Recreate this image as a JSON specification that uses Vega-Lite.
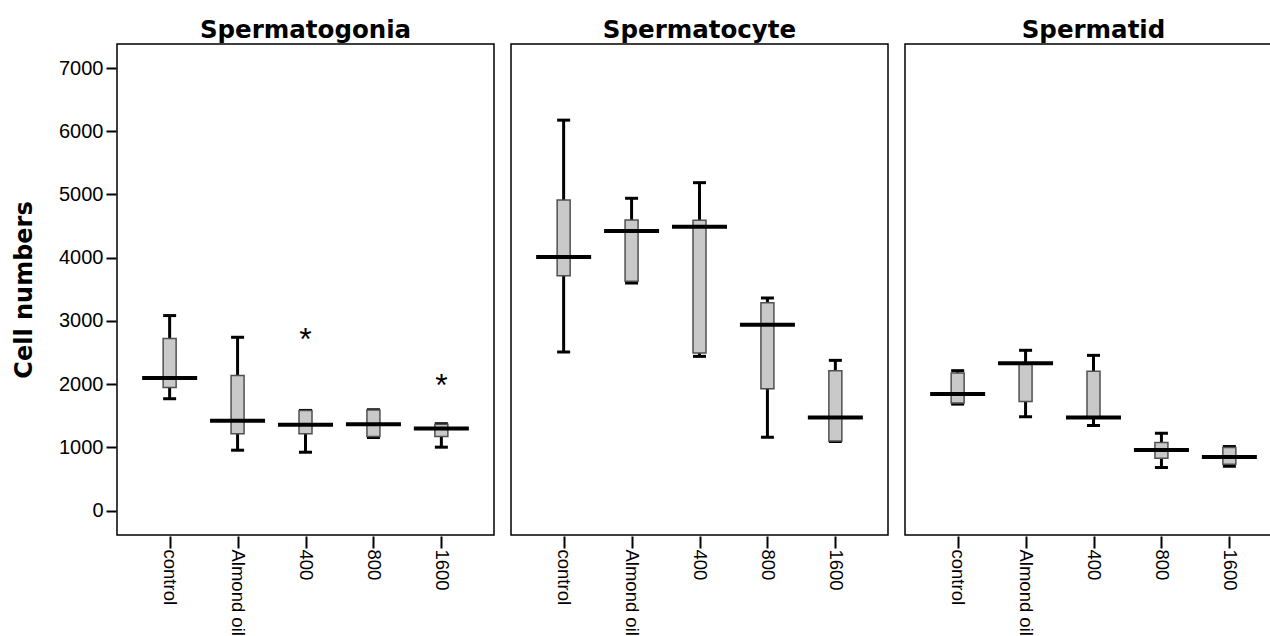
{
  "$schema": "https://vega.github.io/schema/vega-lite/v6.json",
  "padding": {"left": 12, "top": 17, "right": 0, "bottom": 0},
  "background": "white",
  "data": {"values": [
    {"cell": "Spermatogonia", "group": "control", "min": 1770, "q1": 1949, "median": 2097, "q3": 2721, "max": 3085, "outlier": null},
    {"cell": "Spermatogonia", "group": "Almond oil", "min": 956, "q1": 1215, "median": 1421, "q3": 2139, "max": 2742, "outlier": null},
    {"cell": "Spermatogonia", "group": "400", "min": 924, "q1": 1215, "median": 1358, "q3": 1585, "max": 1585, "outlier": 2768},
    {"cell": "Spermatogonia", "group": "800", "min": 1155, "q1": 1173, "median": 1368, "q3": 1590, "max": 1595, "outlier": null},
    {"cell": "Spermatogonia", "group": "1600", "min": 1004, "q1": 1173, "median": 1300, "q3": 1368, "max": 1375, "outlier": 2029},
    {"cell": "Spermatocyte", "group": "control", "min": 2509, "q1": 3713, "median": 4010, "q3": 4913, "max": 6176, "outlier": null},
    {"cell": "Spermatocyte", "group": "Almond oil", "min": 3600, "q1": 3629, "median": 4422, "q3": 4596, "max": 4940, "outlier": null},
    {"cell": "Spermatocyte", "group": "400", "min": 2440, "q1": 2493, "median": 4490, "q3": 4591, "max": 5187, "outlier": null},
    {"cell": "Spermatocyte", "group": "800", "min": 1162, "q1": 1929, "median": 2942, "q3": 3286, "max": 3365, "outlier": null},
    {"cell": "Spermatocyte", "group": "1600", "min": 1094, "q1": 1100, "median": 1474, "q3": 2214, "max": 2377, "outlier": null},
    {"cell": "Spermatid", "group": "control", "min": 1685, "q1": 1701, "median": 1843, "q3": 2176, "max": 2214, "outlier": null},
    {"cell": "Spermatid", "group": "Almond oil", "min": 1485, "q1": 1727, "median": 2330, "q3": 2330, "max": 2536, "outlier": null},
    {"cell": "Spermatid", "group": "400", "min": 1347, "q1": 1474, "median": 1474, "q3": 2203, "max": 2456, "outlier": null},
    {"cell": "Spermatid", "group": "800", "min": 681, "q1": 829, "median": 961, "q3": 1078, "max": 1226, "outlier": null},
    {"cell": "Spermatid", "group": "1600", "min": 702, "q1": 734, "median": 850, "q3": 1000, "max": 1014, "outlier": null}
  ]},
  "facet": {
    "column": {
      "field": "cell",
      "type": "nominal",
      "sort": ["Spermatogonia", "Spermatocyte", "Spermatid"],
      "title": null,
      "header": {
        "labelFont": "DejaVu Sans",
        "labelFontSize": 24.5,
        "labelFontWeight": "bold",
        "labelColor": "black",
        "labelPadding": 0,
        "labelOrient": "top"
      }
    }
  },
  "spacing": 15,
  "spec": {
    "width": 377,
    "height": 491,
    "encoding": {
      "x": {
        "field": "group",
        "type": "nominal",
        "sort": ["control", "Almond oil", "400", "800", "1600"],
        "scale": {"type": "point", "padding": 0.775},
        "axis": {
          "title": null,
          "labelAngle": 90,
          "labelFont": "Liberation Sans",
          "labelFontSize": 18.5,
          "labelColor": "black",
          "labelPadding": 1,
          "tickSize": 12,
          "tickWidth": 2,
          "tickColor": "black",
          "domain": false,
          "grid": false
        }
      }
    },
    "layer": [
      {
        "mark": {"type": "rule", "color": "black", "strokeWidth": 3},
        "encoding": {
          "y": {
            "field": "min",
            "type": "quantitative",
            "scale": {"domain": [-385, 7380], "nice": false, "zero": false},
            "axis": {
              "title": "Cell numbers",
              "titleFont": "DejaVu Sans",
              "titleFontSize": 24,
              "titleFontWeight": "bold",
              "titleColor": "black",
              "titlePadding": 22,
              "values": [0, 1000, 2000, 3000, 4000, 5000, 6000, 7000],
              "format": "d",
              "labelFont": "Liberation Sans",
              "labelFontSize": 20,
              "labelColor": "black",
              "labelPadding": 3,
              "tickSize": 10,
              "tickWidth": 2,
              "tickColor": "black",
              "domain": false,
              "grid": false
            }
          },
          "y2": {"field": "max"}
        }
      },
      {
        "mark": {"type": "tick", "color": "black", "opacity": 1, "size": 13, "thickness": 3},
        "encoding": {"y": {"field": "min", "type": "quantitative"}}
      },
      {
        "mark": {"type": "tick", "color": "black", "opacity": 1, "size": 13, "thickness": 3},
        "encoding": {"y": {"field": "max", "type": "quantitative"}}
      },
      {
        "mark": {"type": "bar", "size": 13, "fill": "#c9c9c9", "stroke": "#505050", "strokeWidth": 1.5, "opacity": 1},
        "encoding": {
          "y": {"field": "q1", "type": "quantitative"},
          "y2": {"field": "q3"}
        }
      },
      {
        "mark": {"type": "tick", "color": "black", "opacity": 1, "size": 55, "thickness": 4},
        "encoding": {"y": {"field": "median", "type": "quantitative"}}
      },
      {
        "mark": {"type": "text", "text": "*", "font": "Liberation Sans", "fontSize": 32, "color": "black", "baseline": "alphabetic", "dy": 14},
        "encoding": {"y": {"field": "outlier", "type": "quantitative"}}
      }
    ]
  },
  "config": {
    "view": {"stroke": "black", "strokeWidth": 1.5},
    "axis": {"labelFlush": false, "labelOverlap": false}
  }
}
